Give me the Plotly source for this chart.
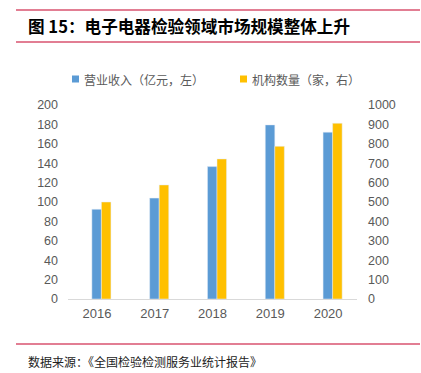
import plotly.graph_objects as go

years = ["2016", "2017", "2018", "2019", "2020"]
revenue = [92.5, 104, 136.5, 179.5, 172]
institutions = [500, 588, 722, 787, 906]
left_ticks = list(range(0, 201, 20))
right_ticks = list(range(0, 1001, 100))

title_text = "图 15：电子电器检验领域市场规模整体上升"
source_text = "数据来源：《全国检验检测服务业统计报告》"
name_rev = "营业收入（亿元，左）"
name_inst = "机构数量（家，右）"

BLUE = "#5b9bd5"
GOLD = "#ffc000"
RED = "#d9536f"
GRAY = "#595959"
FONT = "Liberation Sans, Arial, sans-serif"
CJK = "Noto Sans CJK SC, sans-serif"

W, H = 421, 373
L, R, T, B = 68, 64, 105, 74
PW, PH = W - L - R, H - T - B


def px(x):
    return (x - L) / PW


def py(y):
    return (H - B - y) / PH


fig = go.Figure()
fig.add_trace(go.Bar(x=years, y=revenue, name=name_rev, marker_color=BLUE,
                     width=0.165, offset=-0.087, yaxis="y", showlegend=False))
fig.add_trace(go.Bar(x=years, y=institutions, name=name_inst, marker_color=GOLD,
                     width=0.165, offset=0.078, yaxis="y2", showlegend=False))

fig.update_layout(
    width=W, height=H,
    margin=dict(l=L, r=R, t=T, b=B, autoexpand=False),
    paper_bgcolor="white", plot_bgcolor="white",
    barmode="overlay",
    showlegend=False,
    xaxis=dict(type="category", showgrid=False, showline=True, linecolor="#d9d9d9",
               linewidth=1, ticks="", ticklabelstandoff=2,
               tickfont=dict(family=FONT, size=13, color=GRAY)),
    yaxis=dict(range=[0, 200], tickvals=left_ticks, showgrid=False, zeroline=False,
               showline=False, ticks="", ticklabelstandoff=9,
               tickfont=dict(family=FONT, size=12.5, color=GRAY)),
    yaxis2=dict(range=[0, 1000], tickvals=right_ticks, overlaying="y", side="right",
                showgrid=False, zeroline=False, showline=False, ticks="",
                ticklabelstandoff=10,
                tickfont=dict(family=FONT, size=12.5, color=GRAY)),
    font=dict(family=CJK),
)

shapes = []
for yy in [10, 42, 344]:
    shapes.append(dict(type="line", xref="paper", yref="paper",
                       x0=px(16), x1=px(420), y0=py(yy), y1=py(yy),
                       line=dict(color=RED, width=1.5)))
# legend swatches
for x0, col in [(72, BLUE), (240, GOLD)]:
    shapes.append(dict(type="rect", xref="paper", yref="paper",
                       x0=px(x0), x1=px(x0 + 7), y0=py(82.5), y1=py(75.5),
                       line=dict(width=0), fillcolor=col))
fig.update_layout(shapes=shapes)

for x0, txt in [(82, name_rev), (250, name_inst)]:
    fig.add_annotation(text=txt, xref="paper", yref="paper", x=px(x0), y=py(79),
                       xanchor="left", yanchor="middle", showarrow=False,
                       font=dict(family=CJK, size=12, color=GRAY))

fig.add_annotation(text="<b>" + title_text + "</b>", xref="paper", yref="paper",
                   x=px(26), y=py(26), xanchor="left", yanchor="middle",
                   showarrow=False, font=dict(family=CJK, size=16.6, color="#000000"))
fig.add_annotation(text=source_text, xref="paper", yref="paper",
                   x=px(26), y=py(361), xanchor="left", yanchor="middle",
                   showarrow=False, font=dict(family=CJK, size=12, color="#222222"))

fig.write_html("out.html", config={"displayModeBar": False},
               post_script="document.body.style.margin='0';document.body.style.overflow='hidden';")
